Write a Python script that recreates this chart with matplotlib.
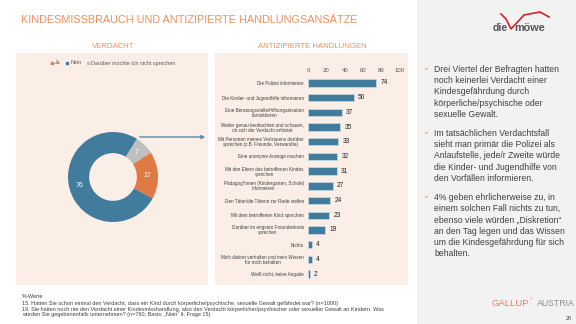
import matplotlib
matplotlib.use("Agg")
import matplotlib.pyplot as plt
from matplotlib.patches import Rectangle, FancyArrowPatch
from matplotlib.lines import Line2D

plt.rcParams['font.family'] = ['Liberation Sans', 'DejaVu Sans']

# ---------------- data ----------------
donut_labels = ["Ja", "Nein", "Darüber möchte ich nicht sprechen"]
donut_values = [17, 76, 7]

bar_categories = [
    "Die Polizei informieren",
    "Die Kinder- und Jugendhilfe informieren",
    "Eine Beratungsstelle/Hilfsorganisation\nkontaktieren",
    "Weiter genau beobachten und schauen,\nob sich der Verdacht erhärtet",
    "Mit Personen meines Vertrauens darüber\nsprechen (z.B. Freunde, Verwandte)",
    "Eine anonyme Anzeige machen",
    "Mit den Eltern des betroffenen Kindes\nsprechen",
    "Pädagog*innen (Kindergarten, Schule)\ninformieren",
    "Den Täter/die Täterin zur Rede stellen",
    "Mit dem betroffenen Kind sprechen",
    "Darüber im engsten Freundeskreis\nsprechen",
    "Nichts",
    "Mich diskret verhalten und mein Wissen\nfür mich behalten",
    "Weiß nicht, keine Angabe",
]
bar_values = [74, 50, 37, 35, 33, 32, 31, 27, 24, 23, 19, 4, 4, 2]
bar_ticks = [0, 20, 40, 60, 80, 100]

bullets = [
    "Drei Viertel der Befragten hatten\nnoch keinerlei Verdacht einer\nKindesgefährdung durch\nkörperliche/psychische oder\nsexuelle Gewalt.",
    "Im tatsächlichen Verdachtsfall\nsieht man primär die Polizei als\nAnlaufstelle, jede/r Zweite würde\ndie Kinder- und Jugendhilfe von\nden Vorfällen informieren.",
    "4% geben ehrlicherweise zu, in\neinem solchen Fall nichts zu tun,\nebenso viele würden „Diskretion“\nan den Tag legen und das Wissen\num die Kindesgefährdung für sich\nbehalten.",
]
footer = [
    "%-Werte",
    "15. Hatten Sie schon einmal den Verdacht, dass ein Kind durch körperliche/psychische, sexuelle Gewalt gefährdet war? (n=1000)",
    "19. Sie hatten noch nie den Verdacht einer Kindesmisshandlung, also den Verdacht körperlicher/psychischer oder sexueller Gewalt an Kindern. Was",
    "würden Sie gegebenenfalls unternehmen? (n=760, Basis: „Nein“ lt. Frage 15)",
]

# ---------------- styling ----------------
W, H = 576, 324
ORANGE = '#f0905e'
PEACH = '#fbeee7'
BLUE = '#417c9c'
DON_COLORS = {"Ja": '#e07a45', "Nein": '#417c9c', "Darüber möchte ich nicht sprechen": '#bfbfbf'}
TXT = '#404040'

def fx(x):
    return x / W

def fy(y):
    return 1 - y / H

fig = plt.figure(figsize=(5.76, 3.24), dpi=100)
fig.patch.set_facecolor('white')

# background panels
fig.add_artist(Rectangle((fx(417), 0), 1 - fx(417), 1, transform=fig.transFigure,
                         facecolor='#f2f2f2', edgecolor='none', zorder=0))
for x0, x1 in [(16, 208), (215, 408)]:
    fig.add_artist(Rectangle((fx(x0), fy(285)), fx(x1) - fx(x0), fy(53) - fy(285),
                             transform=fig.transFigure, facecolor=PEACH,
                             edgecolor='none', zorder=0))

# titles
fig.text(fx(21), fy(20), "KINDESMISSBRAUCH UND ANTIZIPIERTE HANDLUNGSANSÄTZE",
         color=ORANGE, fontsize=7.85, ha='left', va='center')
fig.text(fx(113), fy(47), "VERDACHT", color=ORANGE, fontsize=5.6, ha='center', va='center')
fig.text(fx(312), fy(47), "ANTIZIPIERTE HANDLUNGEN", color=ORANGE, fontsize=5.6,
         ha='center', va='center')

# ---------------- donut ----------------
cx, cy, r = 113, 177, 45
axd = fig.add_axes([fx(cx - r), fy(cy + r), 2 * r / W, 2 * r / H])
order = ["Darüber möchte ich nicht sprechen", "Ja", "Nein"]
vals = [donut_values[donut_labels.index(k)] for k in order]
wedges, _texts, autotexts = axd.pie(
    vals, colors=[DON_COLORS[k] for k in order], startangle=58, counterclock=False,
    radius=1, wedgeprops=dict(width=0.47, edgecolor='none'),
    autopct=lambda p: f"{p:.0f}", pctdistance=0.76,
    textprops=dict(color='white', fontsize=5))
axd.set_xlim(-1, 1)
axd.set_ylim(-1, 1)
axd.axis('off')

handles = [Line2D([], [], marker='s', linestyle='none', markersize=2.0,
                  color=DON_COLORS[k]) for k in donut_labels]
fig.legend(handles, donut_labels, loc='center', bbox_to_anchor=(fx(113), fy(63)),
           ncol=3, frameon=False, fontsize=3.9, handlelength=0.5, handletextpad=0.25,
           columnspacing=1.0, labelcolor='#595959')

# arrow
fig.add_artist(FancyArrowPatch(
    (fx(137), fy(137)), (fx(208), fy(137)), transform=fig.transFigure,
    arrowstyle='-|>', mutation_scale=5, color='#5b8aa6', lw=1.0))

# ---------------- bars ----------------
top, bottom = 75.6, 281.4
axb = fig.add_axes([fx(308), fy(bottom), fx(400) - fx(308), fy(top) - fy(bottom)])
axb.set_facecolor('none')
ypos = list(range(len(bar_categories)))
bars = axb.barh(ypos, bar_values, height=0.5, color=BLUE, edgecolor='#c9dbe6', linewidth=0.5)
axb.bar_label(bars, labels=[str(v) for v in bar_values], padding=3, fontsize=4.8,
              color='#262626')
axb.set_xlim(0, 100)
axb.set_ylim(len(bar_categories) - 0.5, -0.5)
axb.set_xticks(bar_ticks)
axb.xaxis.tick_top()
axb.tick_params(axis='x', length=0, pad=2, labelsize=4.3, labelcolor='#595959')
axb.set_yticks(ypos)
axb.set_yticklabels(bar_categories, fontsize=3.3, color=TXT, linespacing=1.0,
                    multialignment='center')
axb.tick_params(axis='y', length=0, pad=3)
for s in axb.spines.values():
    s.set_visible(False)

# ---------------- right text ----------------
para_tops = [65, 129, 193]
for t, y in zip(bullets, para_tops):
    fig.text(fx(425), fy(y + 0.5), "▪", color='#f4b183', fontsize=6, ha='left', va='top')
    fig.text(fx(434), fy(y), t, color=TXT, fontsize=6.2, ha='left', va='top',
             linespacing=1.32)

# ---------------- footer ----------------
fy_lines = [297, 303, 309, 314.5]
for t, y in zip(footer, fy_lines):
    fig.text(fx(22), fy(y), t, color=TXT, fontsize=3.95, ha='left', va='center')

# logos
fig.text(fx(508), fy(28), "die", color='#555555', fontsize=7.5, fontweight='bold',
         ha='right', va='center')
fig.text(fx(514), fy(28), "möwe", color='#555555', fontsize=7.8, fontweight='bold',
         ha='left', va='center')
fig.add_artist(Line2D([fx(501), fx(506), fx(511), fx(524), fx(540), fx(549)],
                      [fy(14), fy(19), fy(29), fy(15), fy(12), fy(17)],
                      transform=fig.transFigure, color='#d2232a', lw=1.2))
fig.text(fx(529), fy(303), "GALLUP", color='#e8824f', fontsize=6.8, ha='right', va='center')
fig.text(fx(529.5), fy(299.5), "®", color='#e8824f', fontsize=2.5, ha='left', va='center')
fig.text(fx(537), fy(303), "AUSTRIA", color='#8c8c8c', fontsize=6.3, ha='left', va='center')
fig.text(fx(572), fy(318), "20", color='#404040', fontsize=4, ha='right', va='center')

fig.savefig("out.png", dpi=100, facecolor=fig.get_facecolor())
